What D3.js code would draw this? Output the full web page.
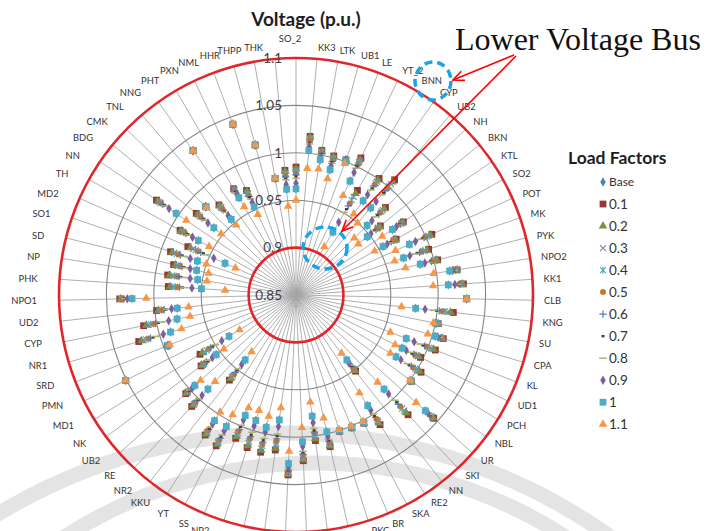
<!DOCTYPE html>
<html><head><meta charset="utf-8">
<script src="https://cdn.jsdelivr.net/npm/d3@7"></script>
<style>body{margin:0;background:#fff}</style>
</head><body>
<svg id="c" width="706" height="531"></svg>
<script>
const categories = ["SO_2","KK3","LTK","UB1","LE","YT_2","BNN","CYP","UB2","NH",
 "BKN","KTL","SO2","POT","MK","PYK","NPO2","KK1","CLB","KNG",
 "SU","CPA","KL","UD1","PCH","NBL","UR","SKI","NN","RE2",
 "SKA","BR","PKC","","","","","","","NP2",
 "SS","YT","KKU","NR2","RE","UB2","NK","MD1","PMN","SRD",
 "NR1","CYP","UD2","NPO1","PHK","NP","SD","SO1","MD2","TH",
 "NN","BDG","CMK","TNL","NNG","PHT","PXN","NML","HHR","THPP","THK"];

const seriesNames = ["Base","0.1","0.2","0.3","0.4","0.5","0.6","0.7","0.8","0.9","1","1.1"];
const radialTicks = [0.85,0.9,0.95,1,1.05,1.1];
const tickLabels = ["0.85","0.9","0.95","1","1.05","1.1"];

const vBase = [.962,1.003,.995,.987,1.000,.983,.927,.972,.971,.955,
 .947,.973,.955,.981,.970,.985,1.014,1.011,1.030,.977,
 1.000,1.003,.975,.975,.974,1.001,1.033,.986,.937,.989,
 1.002,1.001,1.000,.998,.979,1.005,1.028,.983,.993,.989,
 .988,1.007,1.008,.937,.986,.993,.955,.933,1.051,.995,
 .988,.978,.976,1.023,.950,.955,.958,.960,.932,.968,
 1.003,.962,.983,.955,1.037,.969,.953,1.042,1.014,.975,.962];
const v01 = [.985,1.018,1.005,1.002,1.002,1.010,.978,1.001,1.010,.982,
 .965,.987,.971,1.007,.998,1.004,1.022,1.027,1.030,1.017,
 1.003,1.012,1.008,.997,1.005,1.002,1.045,1.023,.952,1.013,
 1.003,1.002,1.001,1.014,1.005,1.025,1.040,1.015,1.020,1.019,
 1.014,1.030,1.026,.964,1.011,1.006,.975,.969,1.051,.996,
 1.023,1.014,.998,1.036,.985,.987,.983,.990,.975,.990,
 1.028,.986,.983,.975,1.037,.980,.972,1.042,1.014,.975,.982];
const v02 = [.983,1.017,1.004,1.001,1.002,1.008,.974,.999,1.007,.980,
 .964,.986,.970,1.005,.996,1.003,1.022,1.026,1.030,1.014,
 1.003,1.011,1.006,.995,1.003,1.002,1.044,1.020,.951,1.011,
 1.003,1.002,1.001,1.013,1.003,1.024,1.039,1.013,1.018,1.017,
 1.012,1.028,1.025,.962,1.009,1.005,.974,.966,1.051,.996,
 1.020,1.011,.996,1.035,.983,.985,.981,.988,.972,.989,
 1.026,.984,.983,.974,1.037,.979,.971,1.042,1.014,.975,.981];
const v03 = [.982,1.016,1.004,1.000,1.002,1.007,.970,.997,1.004,.978,
 .962,.985,.969,1.003,.994,1.001,1.021,1.025,1.030,1.011,
 1.003,1.011,1.003,.994,1.000,1.002,1.043,1.017,.950,1.009,
 1.003,1.002,1.001,1.012,1.001,1.022,1.038,1.010,1.016,1.014,
 1.010,1.026,1.023,.960,1.008,1.004,.972,.964,1.051,.996,
 1.018,1.009,.995,1.034,.980,.982,.979,.986,.969,.987,
 1.025,.983,.983,.972,1.037,.979,.969,1.042,1.014,.975,.979];
const v04 = [.980,1.015,1.003,.999,1.002,1.005,.966,.995,1.001,.976,
 .961,.984,.968,1.001,.992,1.000,1.021,1.024,1.030,1.008,
 1.002,1.010,1.001,.992,.998,1.002,1.043,1.014,.949,1.008,
 1.003,1.002,1.001,1.011,.999,1.021,1.038,1.008,1.013,1.012,
 1.008,1.025,1.022,.958,1.006,1.003,.971,.961,1.051,.996,
 1.015,1.006,.993,1.034,.978,.980,.978,.983,.966,.986,
 1.023,.981,.983,.971,1.037,.978,.968,1.042,1.014,.975,.978];
const v05 = [.978,1.014,1.002,.998,1.002,1.003,.962,.993,.998,.974,
 .960,.983,.967,.999,.990,.998,1.020,1.023,1.030,1.005,
 1.002,1.010,.998,.990,.995,1.001,1.042,1.011,.948,1.006,
 1.002,1.001,1.000,1.010,.997,1.019,1.037,1.005,1.011,1.009,
 1.006,1.023,1.020,.956,1.005,1.002,.969,.958,1.051,.995,
 1.012,1.003,.992,1.033,.975,.977,.976,.981,.963,.984,
 1.022,.980,.983,.969,1.037,.977,.966,1.042,1.014,.975,.976];
const v06 = [.977,1.012,1.002,.996,1.001,1.002,.959,.991,.995,.972,
 .959,.983,.965,.998,.988,.997,1.020,1.023,1.030,1.002,
 1.002,1.009,.996,.989,.993,1.001,1.041,1.008,.946,1.004,
 1.002,1.001,1.000,1.008,.996,1.018,1.036,1.003,1.009,1.007,
 1.004,1.021,1.019,.954,1.003,1.002,.968,.956,1.051,.995,
 1.010,1.001,.990,1.032,.973,.975,.974,.979,.960,.983,
 1.020,.978,.983,.968,1.037,.977,.965,1.042,1.014,.975,.975];
const v07 = [.975,1.011,1.001,.995,1.001,1.000,.955,.988,.992,.970,
 .957,.982,.964,.996,.985,.996,1.019,1.022,1.030,.999,
 1.002,1.008,.994,.987,.990,1.001,1.040,1.005,.945,1.002,
 1.002,1.001,1.000,1.007,.994,1.016,1.035,1.000,1.007,1.005,
 1.001,1.019,1.018,.951,1.001,1.001,.966,.953,1.051,.995,
 1.007,.998,.988,1.031,.970,.973,.972,.977,.957,.981,
 1.018,.976,.983,.966,1.037,.976,.964,1.042,1.014,.975,.973];
const v08 = [.973,1.010,1.000,.994,1.001,.998,.951,.986,.989,.968,
 .956,.981,.963,.994,.983,.994,1.019,1.021,1.030,.996,
 1.002,1.008,.991,.985,.988,1.001,1.039,1.002,.944,1.000,
 1.002,1.001,1.000,1.006,.992,1.015,1.034,.998,1.005,1.002,
 .999,1.017,1.016,.949,1.000,1.000,.965,.950,1.051,.995,
 1.004,.995,.987,1.030,.968,.970,.970,.975,.954,.980,
 1.017,.975,.983,.965,1.037,.975,.962,1.042,1.014,.975,.972];
const v09 = [.968,1.007,.998,.991,1.001,.993,.939,.980,.980,.962,
 .952,.978,.960,.988,.977,.990,1.017,1.018,1.030,.987,
 1.001,1.006,.984,.980,.980,1.001,1.037,.993,.941,.995,
 1.002,1.001,1.000,1.003,.986,1.010,1.032,.990,.998,.995,
 .993,1.012,1.012,.943,.995,.997,.960,.942,1.051,.995,
 .996,.987,.982,1.028,.960,.963,.965,.968,.945,.975,
 1.012,.970,.983,.960,1.037,.973,.958,1.042,1.014,.975,.967];
const v10 = [.962,1.003,.995,.987,1.000,.983,.927,.972,.971,.955,
 .947,.973,.955,.981,.970,.985,1.014,1.011,1.030,.977,
 1.000,1.003,.975,.975,.974,1.001,1.033,.986,.937,.989,
 1.002,1.001,1.000,.998,.979,1.005,1.028,.983,.993,.989,
 .988,1.007,1.008,.937,.986,.993,.955,.933,1.051,.995,
 .988,.978,.976,1.023,.950,.955,.958,.960,.932,.968,
 1.003,.962,.983,.955,1.037,.969,.953,1.042,1.014,.975,.962];
const v11 = [.950,.984,.985,.977,.998,.966,.909,.955,.950,.936,
 .935,.960,.945,.965,.960,.969,.997,.995,1.030,.962,
 .998,.995,.957,.967,.967,1.000,1.020,.976,.928,.973,
 1.001,1.000,.999,.983,.964,.990,1.015,.970,.981,.978,
 .979,.993,.997,.926,.975,.985,.945,.920,1.051,.993,
 .976,.964,.964,1.008,.925,.945,.945,.950,.920,.955,
 .990,.952,.982,.947,1.037,.958,.944,1.042,1.014,.975,.944];

const seriesValues = [vBase,v01,v02,v03,v04,v05,v06,v07,v08,v09,v10,v11];
const seriesColors = ["#4F81BD","#953735","#77933C","#8A7FA0","#4BACC6","#C9772F","#4F81BD","#5E3431","#A3B86A","#7D5FA0","#4BACC6","#F79646"];
const seriesShapes = ["diamond","square","triangle","x","star","circle","plus","dot","dash","diamond","square","triangle"];

const W = 706, H = 531, cx = 296, cy = 295, R = 237;
const svg = d3.select("#c");

// background watermark arcs
svg.append("circle").attr("cx",287).attr("cy",988).attr("r",555)
  .attr("fill","none").attr("stroke","#e4e4e4").attr("stroke-width",15);
svg.append("circle").attr("cx",315).attr("cy",924).attr("r",461)
  .attr("fill","none").attr("stroke","#e4e4e4").attr("stroke-width",15);

const rScale = d3.scaleLinear().domain([0.85,1.1]).range([0,R]);
const N = categories.length;
const aScale = d3.scaleLinear().domain([0,N]).range([0,2*Math.PI]);
const px = (i,v) => cx + rScale(v)*Math.sin(aScale(i));
const py = (i,v) => cy - rScale(v)*Math.cos(aScale(i));

const g = svg.append("g");
// spokes
g.selectAll("line.spoke").data(categories).join("line")
  .attr("x1",cx).attr("y1",cy)
  .attr("x2",(d,i)=>px(i,1.1)).attr("y2",(d,i)=>py(i,1.1))
  .attr("stroke","#a6a6a6").attr("stroke-width",0.9);
// grid rings
g.selectAll("circle.ring").data(radialTicks.filter(t=>t>0.85)).join("circle")
  .attr("cx",cx).attr("cy",cy).attr("r",d=>rScale(d))
  .attr("fill","none")
  .attr("stroke",d=>(d===0.9||d===1.1)?"#E1262B":"#858585")
  .attr("stroke-width",d=>(d===0.9||d===1.1)?2.6:1.1);

// tick labels
g.selectAll("text.tick").data(radialTicks).join("text")
  .attr("x",282).attr("y",d=>cy-rScale(d)).attr("dy","0.36em")
  .attr("text-anchor","end")
  .attr("font-family","Lato, 'Open Sans', sans-serif").attr("font-size",13.5)
  .attr("fill","#3f3f3f")
  .text((d,i)=>tickLabels[i]);

// category labels
const LR = 248;
g.selectAll("text.cat").data(categories).join("text")
  .each(function(d,i){
    const a = aScale(i), s = Math.sin(a), c = Math.cos(a);
    let x = cx + LR*s, y = cy - LR*c, anchor = "middle";
    if (Math.abs(s) < 0.05) { y += (c>0 ? -8 : 8); x -= (c>0 ? 6 : 0); }
    else if (s > 0) anchor = "start";
    else { anchor = "end"; x -= 11; }
    d3.select(this).attr("x",x).attr("y",y).attr("dy","0.35em").attr("text-anchor",anchor);
  })
  .attr("font-family","Lato, 'Open Sans', sans-serif").attr("font-size",9.4)
  .attr("fill","#333")
  .text(d=>d);

function marker(sel, shape, color) {
  if (shape==="diamond") sel.append("path").attr("d",d3.symbol(d3.symbolDiamond,26)()).attr("fill",color);
  else if (shape==="square") sel.append("path").attr("d",d3.symbol(d3.symbolSquare,46)()).attr("fill",color);
  else if (shape==="triangle") sel.append("path").attr("d",d3.symbol(d3.symbolTriangle,32)()).attr("fill",color);
  else if (shape==="circle") sel.append("path").attr("d",d3.symbol(d3.symbolCircle,28)()).attr("fill",color);
  else if (shape==="x") sel.append("path").attr("d","M-3,-3L3,3M-3,3L3,-3").attr("stroke",color).attr("stroke-width",1.2).attr("fill","none");
  else if (shape==="star") sel.append("path").attr("d","M-3,-3L3,3M-3,3L3,-3M0,-3.6L0,3.6").attr("stroke",color).attr("stroke-width",1.2).attr("fill","none");
  else if (shape==="plus") sel.append("path").attr("d","M-3.6,0L3.6,0M0,-3.6L0,3.6").attr("stroke",color).attr("stroke-width",1.2).attr("fill","none");
  else if (shape==="dot") sel.append("rect").attr("x",-1.5).attr("y",-1.2).attr("width",3).attr("height",2.4).attr("fill",color);
  else if (shape==="dash") sel.append("path").attr("d","M-3.8,0L3.8,0").attr("stroke",color).attr("stroke-width",1.5);
}

// series markers
seriesValues.forEach((vals,si)=>{
  const sg = g.append("g");
  vals.forEach((v,i)=>{
    const m = sg.append("g").attr("transform",`translate(${px(i,v)},${py(i,v)})`);
    marker(m, seriesShapes[si], seriesColors[si]);
  });
});

// title
svg.append("text").attr("x",306).attr("y",26).attr("text-anchor","middle")
  .attr("font-family","Lato, sans-serif").attr("font-weight","bold").attr("font-size",19)
  .attr("fill","#1e1e1e").text("Voltage (p.u.)");

// legend
svg.append("text").attr("x",568).attr("y",164)
  .attr("font-family","Lato, sans-serif").attr("font-weight","bold").attr("font-size",17.5)
  .attr("fill","#1e1e1e").text("Load Factors");
const lg = svg.append("g");
seriesNames.forEach((n,i)=>{
  const y = 182 + i*22.02;
  const m = lg.append("g").attr("transform",`translate(603,${y})`);
  marker(m, seriesShapes[i], seriesColors[i]);
  lg.append("text").attr("x",609).attr("y",y).attr("dy","0.36em")
    .attr("font-family","Lato, sans-serif").attr("font-size",i===0?12:13.5)
    .attr("fill","#333").text(n);
});

// annotation
const ann = svg.append("g");
ann.append("text").attr("x",455).attr("y",50)
  .attr("font-family","'Liberation Serif', 'Times New Roman', serif").attr("font-size",32)
  .attr("fill","#111").text("Lower Voltage Bus");
ann.append("ellipse").attr("cx",433).attr("cy",81).attr("rx",18).attr("ry",19)
  .attr("fill","none").attr("stroke","#1AA3E8").attr("stroke-width",3.5).attr("stroke-dasharray","8 5");
ann.append("ellipse").attr("cx",325).attr("cy",248).attr("rx",22).attr("ry",21)
  .attr("fill","none").attr("stroke","#1AA3E8").attr("stroke-width",3.5).attr("stroke-dasharray","8 5");
function arrow(x1,y1,x2,y2){
  ann.append("line").attr("x1",x1).attr("y1",y1).attr("x2",x2).attr("y2",y2)
    .attr("stroke","#F00").attr("stroke-width",1.6);
  const a = Math.atan2(y1-y2,x1-x2), L = 12, sp = 0.42;
  const p = d3.path();
  p.moveTo(x2+L*Math.cos(a+sp), y2+L*Math.sin(a+sp));
  p.lineTo(x2,y2);
  p.lineTo(x2+L*Math.cos(a-sp), y2+L*Math.sin(a-sp));
  ann.append("path").attr("d",p.toString()).attr("fill","none").attr("stroke","#F00").attr("stroke-width",1.6);
}
arrow(514,55,453,80);
arrow(516,56,342,231);
</script>
</body></html>
